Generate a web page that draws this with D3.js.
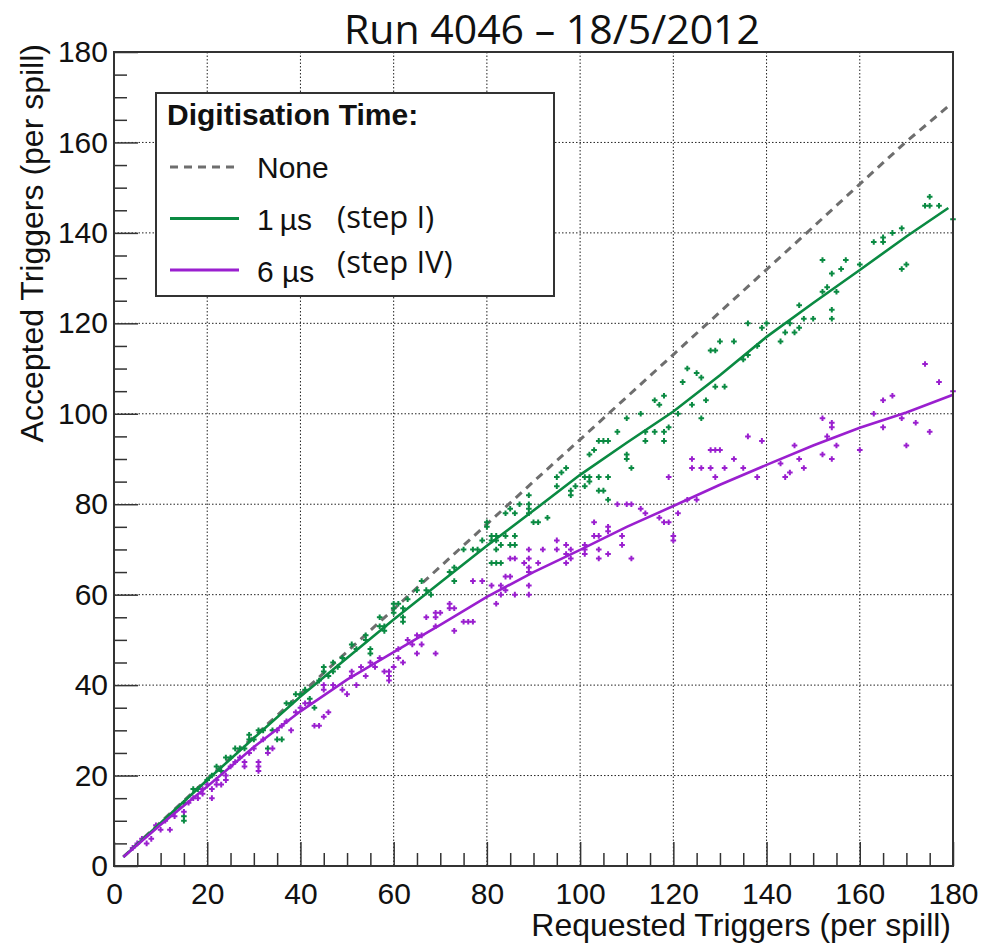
<!DOCTYPE html>
<html>
<head>
<meta charset="utf-8">
<script src="https://cdn.jsdelivr.net/npm/d3@7"></script>
<style>
  body { margin: 0; background: #fff; }
  svg { display: block; }
</style>
</head>
<body>
<div id="chart"></div>
<script>
// axis ticks / labels
const majorTicks = [0, 20, 40, 60, 80, 100, 120, 140, 160, 180]
const minorTicks = [5, 10, 15, 25, 30, 35, 45, 50, 55, 65, 70, 75, 85, 90, 95, 105, 110, 115, 125, 130, 135, 145, 150, 155, 165, 170, 175]

// "None" (no digitisation time) reference curve
const noneX = [2, 10, 20, 30, 40, 50, 60, 70, 80, 90, 100, 110, 120, 130, 140, 150, 160, 170, 179]
const noneY = [2, 9.7, 19.2, 28.6, 38, 47.4, 56.8, 66.2, 75.6, 85, 94.3, 103.7, 113.1, 122.5, 131.9, 141.3, 150.8, 160.2, 168]

// 1 us average curve
const greenX = [2, 10, 20, 30, 40, 50, 60, 70, 80, 90, 100, 110, 120, 130, 140, 150, 160, 170, 179]
const greenY = [2, 9.5, 19, 28.3, 37.5, 46, 54.5, 62.7, 70.8, 78.6, 86.5, 93.6, 100.5, 108.5, 117, 124.5, 131.8, 139.2, 145.5]

// 6 us average curve
const purpleX = [2, 10, 20, 30, 40, 50, 60, 70, 80, 90, 100, 110, 120, 130, 140, 150, 160, 170, 180]
const purpleY = [2, 9.1, 17.6, 26.3, 34.2, 41.2, 47.3, 53.3, 59.5, 65, 69.9, 75, 79.6, 84.3, 88.7, 93, 96.9, 100.3, 104.2]

// per-spill measurements, 1 us
const greenPts = [
  [15,14],[15,11],[15,10],[17,17],[18,17],[20,19],[21,20],[22,22],[23,21],[24,24],[25,24],[26,26],[27,26],[28,26],
  [29,28],[29,29],[30,28],[31,30],[32,30],[34,30],[33,26],[35,28],[36,28],[37,36],[38,36],[39,38],[40,38],[41,39],
  [42,37],[42,36],[43,35],[44,41],[45,44],[47,43],[46,42],[45,43],[47,45],[49,46],[48,44],[51,49],[52,48],[54,51],
  [54,50],[55,47],[55,48],[57,55],[57,53],[58,53],[58,52],[60,58],[61,58],[60,57],[60,56],[62,57],[62,55],[62,54],
  [63,59],[65,61],[67,61],[68,60],[66,63],[72,65],[73,66],[73,63],[75,70],[77,70],[78,70],[80,76],[80,75],[82,72],
  [82,70],[83,71],[82,73],[84,73],[86,73],[81,67],[82,67],[83,67],[84,78],[86,78],[87,80],[85,79],[89,80],[89,79],
  [79,72],[81,73],[81,72],[85,71],[86,71],[89,78],[89,82],[90,76],[91,76],[93,77],[95,86],[95,84],[96,87],[97,88],
  [98,83],[98,82],[99,84],[101,84],[101,86],[102,85],[102,86],[104,86],[106,86],[104,83],[105,83],[106,81],[102,91],
  [103,92],[104,94],[105,94],[106,94],[110,91],[110,90],[111,88],[108,96],[110,99],[114,96],[114,94],[116,96],
  [118,96],[118,94],[113,100],[116,103],[117,102],[118,104],[119,97],[121,100],[122,107],[124,102],[126,99],[127,103],
  [123,110],[125,109],[128,114],[129,114],[130,116],[126,108],[129,106],[131,106],[133,116],[135,112],[136,113],
  [136,120],[138,115],[139,119],[140,120],[143,116],[144,118],[145,120],[146,118],[147,119],[147,124],[148,121],
  [150,121],[152,134],[152,127],[153,128],[154,131],[154,123],[154,121],[155,127],[156,132],[157,134],[160,133],
  [163,138],[165,139],[165,138],[167,140],[169,141],[169,132],[170,133],[174,146],[175,146],[175,148],[177,146],[180,143]
]

// per-spill measurements, 6 us
const purplePts = [
  [4,4],[5,5],[6,6],[7,5],[8,6],[10,8],[12,8],[9,9],[11,10],[13,11],[13,12],[14,13],[15,12],[16,14],[17,15],[18,15],
  [19,16],[19,17],[20,18],[21,17],[22,18],[23,18],[21,15],[22,19],[24,19],[24,20],[25,22],[26,23],[27,24],[28,22],
  [28,23],[29,25],[30,26],[31,23],[31,22],[31,21],[32,28],[33,25],[34,26],[35,30],[36,31],[37,32],[38,30],[39,34],
  [40,35],[41,36],[42,36],[43,31],[44,31],[45,33],[46,34],[45,40],[47,40],[45,39],[49,39],[50,38],[51,43],[51,42],
  [52,40],[53,44],[54,42],[55,45],[56,44],[57,46],[58,43],[59,43],[59,42],[59,41],[61,48],[61,46],[62,45],[60,44],
  [63,50],[64,49],[65,47],[65,51],[66,51],[66,49],[67,55],[69,55],[69,47],[69,56],[70,56],[69,53],[72,58],[72,57],
  [73,57],[73,52],[75,54],[76,54],[77,54],[77,63],[79,63],[81,62],[83,62],[82,58],[83,60],[84,64],[85,64],[86,60],
  [84,61],[89,70],[89,68],[89,65],[89,62],[89,60],[85,68],[86,68],[92,70],[88,67],[89,66],[91,67],[95,72],[95,70],
  [97,71],[97,69],[98,70],[98,68],[97,67],[101,71],[101,70],[101,69],[103,76],[103,73],[104,73],[104,70],[104,68],
  [106,75],[106,74],[106,69],[108,80],[110,80],[111,80],[109,73],[109,71],[111,68],[113,79],[114,78],[117,77],
  [118,76],[119,76],[119,86],[120,73],[120,72],[121,78],[123,81],[125,81],[124,90],[124,88],[126,88],[128,88],
  [128,92],[129,92],[129,86],[130,92],[131,88],[133,90],[135,88],[136,95],[139,94],[138,86],[143,89],[144,86],
  [145,87],[146,93],[147,90],[148,88],[152,99],[152,91],[153,95],[154,98],[154,97],[154,90],[155,93],[160,92],
  [163,100],[165,103],[165,97],[167,104],[169,99],[170,93],[172,98],[174,111],[175,96],[177,107],[180,105]
]

const legendItems = [
  { label: 'None', note: '', color: '#6e6e6e', dash: '8,6' },
  { label: '1\u2009\u00b5s', note: '(step I)', color: '#0a8a42', dash: null },
  { label: '6 \u00b5s', note: '(step IV)', color: '#9a1fcf', dash: null }
]

const width = 991, height = 948
const mLeft = 114, mRight = 953, mTop = 52, mBottom = 866

const svg = d3.select('#chart').append('svg')
  .attr('width', width)
  .attr('height', height)

const x = d3.scaleLinear().domain([0, 180]).range([mLeft, mRight])
const y = d3.scaleLinear().domain([0, 180]).range([mBottom, mTop])

// grid
const grid = svg.append('g')
  .attr('stroke', '#222')
  .attr('stroke-width', 1)
  .attr('stroke-dasharray', '1.5,2')
grid.selectAll('.gx').data(majorTicks.slice(1, -1)).enter().append('line')
  .attr('x1', d => x(d)).attr('x2', d => x(d)).attr('y1', mTop).attr('y2', mBottom)
grid.selectAll('.gy').data(majorTicks.slice(1, -1)).enter().append('line')
  .attr('y1', d => y(d)).attr('y2', d => y(d)).attr('x1', mLeft).attr('x2', mRight)

const line = d3.line().x(d => x(d[0])).y(d => y(d[1]))

// None
svg.append('path')
  .datum(noneX.map((v, i) => [v, noneY[i]]))
  .attr('d', line)
  .attr('fill', 'none')
  .attr('stroke', '#6e6e6e')
  .attr('stroke-width', 3)
  .attr('stroke-dasharray', '8,6')

// markers
const cross = 'M-2.8,0H2.8M0,-2.8V2.8'
svg.append('g').selectAll('path').data(greenPts).enter().append('path')
  .attr('d', cross)
  .attr('transform', d => `translate(${x(d[0])},${y(d[1])})`)
  .attr('stroke', '#0a8a42')
  .attr('stroke-width', 2)
svg.append('g').selectAll('path').data(purplePts).enter().append('path')
  .attr('d', cross)
  .attr('transform', d => `translate(${x(d[0])},${y(d[1])})`)
  .attr('stroke', '#9a1fcf')
  .attr('stroke-width', 2)

svg.append('path')
  .datum(greenX.map((v, i) => [v, greenY[i]]))
  .attr('d', line)
  .attr('fill', 'none')
  .attr('stroke', '#0a8a42')
  .attr('stroke-width', 2.6)
svg.append('path')
  .datum(purpleX.map((v, i) => [v, purpleY[i]]))
  .attr('d', line)
  .attr('fill', 'none')
  .attr('stroke', '#9a1fcf')
  .attr('stroke-width', 2.6)

// axes, ticks drawn inward
const tickFont = "'Liberation Sans', Arial, sans-serif"
function styleAxis(g) {
  g.select('.domain').remove()
  g.selectAll('line').attr('stroke', '#333').attr('stroke-width', 1.5)
  g.selectAll('text').attr('font-family', tickFont).attr('font-size', 30).attr('fill', '#111')
}

svg.append('g')
  .attr('transform', `translate(0,${mBottom})`)
  .call(d3.axisBottom(x).tickValues(minorTicks).tickSize(-13).tickFormat(''))
  .call(styleAxis)
svg.append('g')
  .attr('transform', `translate(0,${mBottom})`)
  .call(d3.axisBottom(x).tickValues(majorTicks).tickSize(-24).tickPadding(10).tickFormat(d3.format('d')))
  .call(styleAxis)
  .selectAll('text').attr('dy', '0.93em')

svg.append('g')
  .attr('transform', `translate(${mLeft},0)`)
  .call(d3.axisLeft(y).tickValues(minorTicks).tickSize(-13).tickFormat(''))
  .call(styleAxis)
svg.append('g')
  .attr('transform', `translate(${mLeft},0)`)
  .call(d3.axisLeft(y).tickValues(majorTicks).tickSize(-24).tickPadding(6).tickFormat(d3.format('d')))
  .call(styleAxis)

// frame
svg.append('rect')
  .attr('x', mLeft).attr('y', mTop)
  .attr('width', mRight - mLeft).attr('height', mBottom - mTop)
  .attr('fill', 'none')
  .attr('stroke', '#333')
  .attr('stroke-width', 2)

// axis titles
svg.append('text')
  .attr('x', mRight - 2).attr('y', 936)
  .attr('text-anchor', 'end')
  .attr('font-family', tickFont).attr('font-size', 32).attr('fill', '#111')
  .text('Requested Triggers (per spill)')
svg.append('text')
  .attr('transform', `translate(43,${mTop - 8}) rotate(-90)`)
  .attr('text-anchor', 'end')
  .attr('font-family', tickFont).attr('font-size', 32).attr('fill', '#111')
  .text('Accepted Triggers (per spill)')

// title
svg.append('text')
  .attr('x', 552).attr('y', 44)
  .attr('text-anchor', 'middle')
  .attr('font-family', "'Open Sans', sans-serif").attr('font-size', 41).attr('fill', '#111')
  .text('Run 4046 \u2013 18/5/2012')

// legend
const lg = svg.append('g')
lg.append('rect')
  .attr('x', 156).attr('y', 93).attr('width', 398).attr('height', 203)
  .attr('fill', '#fff').attr('stroke', '#333').attr('stroke-width', 2)
lg.append('text')
  .attr('x', 167).attr('y', 125)
  .attr('font-family', tickFont).attr('font-weight', 'bold').attr('font-size', 30).attr('fill', '#111')
  .text('Digitisation Time:')

const rows = lg.selectAll('.row').data(legendItems).enter().append('g')
  .attr('transform', (d, i) => `translate(0,${167 + i * 51.5})`)
rows.append('line')
  .attr('x1', 170).attr('x2', 239).attr('y1', 0).attr('y2', 0)
  .attr('stroke', d => d.color)
  .attr('stroke-width', 3)
  .attr('stroke-dasharray', d => d.dash)
rows.append('text')
  .attr('x', 257).attr('y', (d, i) => i === 2 ? 12 : 11)
  .attr('font-family', tickFont).attr('font-size', 30).attr('fill', '#111')
  .text(d => d.label)
rows.append('text')
  .attr('x', 337).attr('y', (d, i) => i === 2 ? 3 : 9)
  .attr('font-family', "'Open Sans', sans-serif").attr('font-size', 31).attr('fill', '#111')
  .text(d => d.note)
</script>
</body>
</html>
